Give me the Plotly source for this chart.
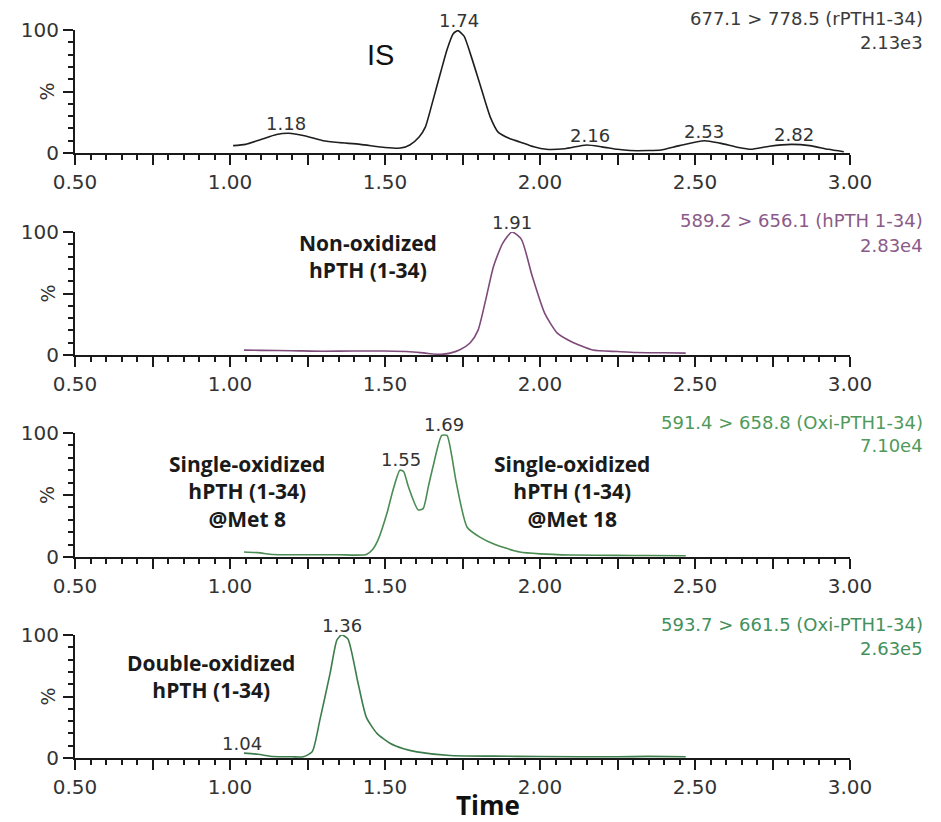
import plotly.graph_objects as go

# page body has an 8px margin; the figure is sized so that it fills the 941x822 window
OFF = 8
W, H = 941 - OFF, 822 - OFF

# ---------------- data ----------------
# Panel 1: IS 677.1 > 778.5 (rPTH1-34)
is_rt = [1.01, 1.05, 1.10, 1.15, 1.19, 1.24, 1.30, 1.35, 1.42, 1.50, 1.55, 1.58, 1.61, 1.63,
         1.655, 1.68, 1.70, 1.72, 1.735, 1.755, 1.775, 1.805, 1.84, 1.865, 1.90, 1.935, 1.98,
         2.02, 2.08, 2.15, 2.20, 2.25, 2.29, 2.35, 2.39, 2.45, 2.53, 2.58, 2.64, 2.68, 2.74,
         2.81, 2.87, 2.93, 2.98]
is_int = [6, 7, 11, 15, 16, 14, 10, 8.5, 7, 4.5, 4, 6.5, 13, 21,
          43, 66, 84, 97, 99.5, 95, 81, 57, 29, 17, 12, 9, 5,
          3, 3.5, 6.5, 5, 3, 2, 2, 2.5, 6, 10, 8, 4.5, 3, 5.5,
          7, 6, 3, 1]
is_peaks = [1.18, 1.74, 2.16, 2.53, 2.82]
is_peak_y = [16, 100, 6.5, 10, 7]

# Panel 2: 589.2 > 656.1 (hPTH 1-34)
h_rt = [1.045, 1.10, 1.20, 1.30, 1.40, 1.50, 1.58, 1.63, 1.68, 1.71, 1.74, 1.775, 1.80, 1.825,
        1.85, 1.88, 1.91, 1.94, 1.975, 2.015, 2.055, 2.10, 2.17, 2.25, 2.31, 2.40, 2.47]
h_int = [4, 3.8, 3.5, 3, 3.3, 3.2, 2.7, 1.5, 0.5, 1.5, 4, 10, 20, 45,
         72, 91, 100, 94, 64, 34, 18, 11, 4, 2.8, 2, 1.8, 1.5]
h_peaks = [1.91]
h_peak_y = [100]

# Panel 3: 591.4 > 658.8 (Oxi-PTH1-34)
s_rt = [1.045, 1.09, 1.14, 1.25, 1.35, 1.44, 1.46, 1.478, 1.506, 1.527, 1.548, 1.56, 1.575,
        1.607, 1.623, 1.64, 1.655, 1.683, 1.70, 1.715, 1.73, 1.765, 1.806, 1.855, 1.935,
        2.00, 2.10, 2.25, 2.35, 2.47]
s_int = [4, 3.5, 2, 1.8, 1.8, 2, 6, 14, 35, 55, 70, 69, 57,
         38, 39, 57, 73, 98, 98, 82, 60, 24, 16, 10, 4,
         2.5, 1.6, 1.3, 1.2, 1]
s_peaks = [1.55, 1.69]
s_peak_y = [71, 99]

# Panel 4: 593.7 > 661.5 (Oxi-PTH1-34)
d_rt = [1.045, 1.09, 1.14, 1.20, 1.236, 1.265, 1.29, 1.323, 1.345, 1.36, 1.38, 1.413, 1.44,
        1.474, 1.516, 1.56, 1.603, 1.71, 1.85, 2.00, 2.25, 2.35, 2.47]
d_int = [4, 3, 1.2, 1, 1, 5, 31, 69, 96, 100, 97, 61, 33,
         20, 12, 7.5, 5, 2, 1.5, 1.2, 1, 1.3, 1]
d_peaks = [1.04, 1.36]
d_peak_y = [4, 100]

headers = ["677.1 > 778.5 (rPTH1-34)", "589.2 > 656.1 (hPTH 1-34)",
           "591.4 > 658.8 (Oxi-PTH1-34)", "593.7 > 661.5 (Oxi-PTH1-34)"]
scales = ["2.13e3", "2.83e4", "7.10e4", "2.63e5"]

x_tickvals = [0.5, 0.75, 1.0, 1.25, 1.5, 1.75, 2.0, 2.25, 2.5, 2.75, 3.0]
x_ticktext = ["0.50", "", "1.00", "", "1.50", "", "2.00", "", "2.50", "", "3.00"]
y_tickvals = [0, 50, 100]
y_ticktext = ["0", "", "100"]

# ---------------- styling / layout ----------------
line_colors = ["#1e1e1e", "#7d4a79", "#4a8c52", "#3d7d4c"]
text_colors = ["#3a3a3a", "#8a5a88", "#4f9a5b", "#43905c"]


def px_x(p):
    return (p - OFF) / W


def px_y(p):
    return 1 - (p - OFF) / H


# window-pixel geometry of each panel: (top pixel for 100 %, bottom pixel for 0 %)
panel_px = [(30, 153), (232, 355), (433, 557), (635, 758)]
x_left_px, x_right_px = 75, 850

series = [
    (is_rt, is_int, is_peaks, is_peak_y),
    (h_rt, h_int, h_peaks, h_peak_y),
    (s_rt, s_int, s_peaks, s_peak_y),
    (d_rt, d_int, d_peaks, d_peak_y),
]

fig = go.Figure()
layout = dict(
    width=W, height=H,
    margin=dict(l=0, r=0, t=0, b=0, autoexpand=False),
    paper_bgcolor="white", plot_bgcolor="white",
    showlegend=False,
)
annotations = []

tick_font = dict(family="DejaVu Sans", size=20, color="#333333")
axis_color = "#1a1a1a"

for i, (rt, inten, peaks, peak_y) in enumerate(series):
    n = "" if i == 0 else str(i + 1)
    xa, ya = "x" + n, "y" + n
    top, bot = panel_px[i]
    fig.add_trace(go.Scatter(
        x=rt, y=inten, mode="lines", xaxis=xa, yaxis=ya,
        line=dict(color=line_colors[i], width=1.6, shape="spline", smoothing=0.6),
        hoverinfo="x+y",
    ))
    layout["xaxis" + n] = dict(
        domain=[px_x(x_left_px), px_x(x_right_px)], anchor=ya, automargin=False,
        range=[0.5, 3.0], showline=True, linewidth=2, linecolor=axis_color,
        showgrid=False, zeroline=False,
        tickmode="array", tickvals=x_tickvals, ticktext=x_ticktext,
        ticks="outside", ticklen=10, tickwidth=2, tickcolor=axis_color,
        tickfont=tick_font,
        minor=dict(ticks="outside", tick0=0.5, dtick=0.05, ticklen=5,
                   tickwidth=1.5, tickcolor=axis_color, showgrid=False),
    )
    layout["yaxis" + n] = dict(
        domain=[px_y(bot), px_y(top)], anchor=xa, automargin=False,
        range=[0, 100], showline=True, linewidth=2, linecolor=axis_color,
        showgrid=False, zeroline=False,
        tickmode="array", tickvals=y_tickvals, ticktext=y_ticktext,
        ticks="outside", ticklen=10, tickwidth=2, tickcolor=axis_color,
        tickfont=tick_font,
        minor=dict(ticks="outside", tick0=0, dtick=10, ticklen=5,
                   tickwidth=1.5, tickcolor=axis_color, showgrid=False),
    )
    # "%" y label, rotated
    annotations.append(dict(
        xref="paper", yref=ya, x=px_x(47), y=50, text="%", showarrow=False,
        textangle=-90, font=dict(family="DejaVu Sans", size=19, color="#333333"),
        xanchor="center", yanchor="middle",
    ))
    # peak retention-time labels
    for p, py in zip(peaks, peak_y):
        annotations.append(dict(
            xref=xa, yref=ya, x=p, y=py, text=f"{p:.2f}", showarrow=False,
            xanchor="center", yanchor="bottom", yshift=-3,
            font=dict(family="DejaVu Sans", size=18, color="#333333"),
        ))
    # header text (top right)
    annotations.append(dict(
        xref="paper", yref="paper", x=px_x(925), y=px_y(top - 11),
        text=headers[i], showarrow=False, xanchor="right", yanchor="middle",
        font=dict(family="DejaVu Sans", size=18, color=text_colors[i]),
    ))
    annotations.append(dict(
        xref="paper", yref="paper", x=px_x(925), y=px_y(top + 13),
        text=scales[i], showarrow=False, xanchor="right", yanchor="middle",
        font=dict(family="DejaVu Sans", size=18, color=text_colors[i]),
    ))

bold_font = dict(family="Open Sans", size=21, color="#1a1a1a")

annotations += [
    dict(xref="x", yref="y", x=1.484, y=80, text="IS", showarrow=False,
         font=dict(family="Liberation Sans", size=29, color="#111111"),
         xanchor="center", yanchor="middle"),
    dict(xref="paper", yref="paper", x=px_x(368), y=px_y(256),
         text="<b>Non-oxidized<br>hPTH (1-34)</b>", showarrow=False, align="center",
         font=bold_font, xanchor="center", yanchor="middle"),
    dict(xref="paper", yref="paper", x=px_x(247), y=px_y(491),
         text="<b>Single-oxidized<br>hPTH (1-34)<br>@Met 8</b>", showarrow=False,
         align="center", font=bold_font, xanchor="center", yanchor="middle"),
    dict(xref="paper", yref="paper", x=px_x(572), y=px_y(491),
         text="<b>Single-oxidized<br>hPTH (1-34)<br>@Met 18</b>", showarrow=False,
         align="center", font=bold_font, xanchor="center", yanchor="middle"),
    dict(xref="paper", yref="paper", x=px_x(211), y=px_y(676),
         text="<b>Double-oxidized<br>hPTH (1-34)</b>", showarrow=False,
         align="center", font=bold_font, xanchor="center", yanchor="middle"),
    dict(xref="paper", yref="paper", x=px_x(488), y=px_y(805),
         text="<b>Time</b>", showarrow=False,
         font=dict(family="Open Sans", size=26, color="#111111"),
         xanchor="center", yanchor="middle"),
]

layout["annotations"] = annotations
fig.update_layout(**layout)
fig.write_html("out.html")
